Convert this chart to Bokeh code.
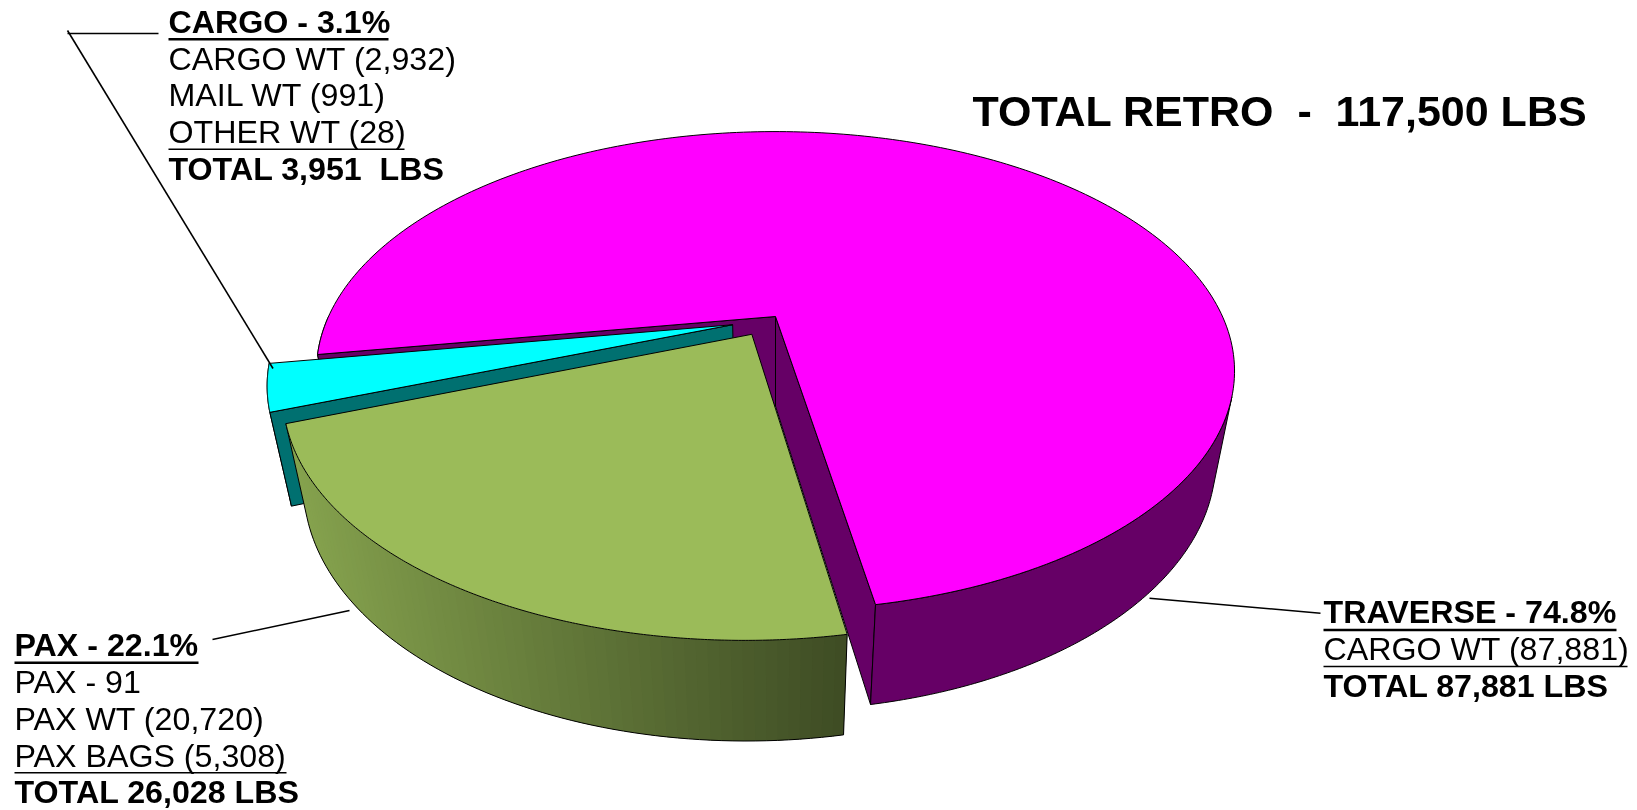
import math
from bokeh.plotting import figure
from bokeh.models import Range1d
from bokeh.core.properties import value
from bokeh.embed import file_html
from bokeh.resources import INLINE

# ---- data
slices = ["TRAVERSE", "CARGO", "PAX"]
shares = [74.8, 3.1, 22.1]
top_colors = ["#FF00FF", "#00FFFF", "#9BBB59"]
wall_colors = ["#660066", "#007070", None]
title = "TOTAL RETRO \u00a0-\u00a0 117,500 LBS"
cargo_lines = ["CARGO - 3.1%", "CARGO WT (2,932)", "MAIL WT (991)", "OTHER WT (28)", "TOTAL 3,951 \u00a0LBS"]
pax_lines = ["PAX - 22.1%", "PAX - 91", "PAX WT (20,720)", "PAX BAGS (5,308)", "TOTAL 26,028 LBS"]
traverse_lines = ["TRAVERSE - 74.8%", "CARGO WT (87,881)", "TOTAL 87,881 LBS"]
bold_flags_cargo = [True, False, False, False, True]
bold_flags_pax = [True, False, False, False, True]
bold_flags_traverse = [True, False, True]

# ---- perspective of the pie
CX, CY, A, B, K, D, E = 775.0, 316.0, 447.0, 227.0, 0.2276, 0.0408, 93.3
START_DEG = -80.0
OFFSETS = {"TRAVERSE": (0.0, 0.0), "CARGO": (-0.095, -0.036), "PAX": (-0.052, -0.077)}
FONT = "Liberation Sans"


def project(u, v, d=0.0):
    w = 1 + K * v + D * d
    return CX + A * u / w, CY + (-B * v + E * d) / w


def rim(off, a0, a1, d=0.0, n=120):
    xs, ys = [], []
    for i in range(n + 1):
        t = math.radians(a0 + (a1 - a0) * i / n)
        x, y = project(off[0] + math.cos(t), off[1] + math.sin(t), d)
        xs.append(x)
        ys.append(y)
    return xs, ys


def silhouette_angle(off):
    """angle of the rim point where the wall's vertical edge is tangent to the right side"""
    vy = CY + E / D

    def lean(deg):
        t = math.radians(deg)
        x, y = project(off[0] + math.cos(t), off[1] + math.sin(t))
        return (x - CX) / (vy - y)

    return max((i * 0.1 - 60 for i in range(600)), key=lean)


p = figure(width=1637, height=810, output_backend="svg", toolbar_location=None,
           x_range=Range1d(0, 1637), y_range=Range1d(810, 0),
           min_border=0, outline_line_color=None)
p.axis.visible = False
p.grid.visible = False
p.styles = {"position": "fixed", "left": "0px", "top": "0px"}

LW = 1.0


def poly(xs, ys, fill, line="black", lw=LW):
    p.patch(xs, ys, fill_color=fill, line_color=line, line_width=lw)


def slab_side(off, a, color):
    """flat inner wall along the radius at angle a"""
    ax, ay = project(off[0], off[1])
    bx, by = project(off[0], off[1], 1.0)
    rx, ry = rim(off, a, a, n=1)
    qx, qy = rim(off, a, a, 1.0, n=1)
    poly([ax, rx[0], qx[0], bx], [ay, ry[0], qy[0], by], color)


def outer_wall(off, a0, a1, color):
    x0, y0 = rim(off, a0, a1)
    x1, y1 = rim(off, a0, a1, 1.0)
    poly(x0 + x1[::-1], y0 + y1[::-1], color)


def top_face(off, a0, a1, color):
    ax, ay = project(off[0], off[1])
    xs, ys = rim(off, a0, a1, n=240)
    poly([ax] + xs, [ay] + ys, color)


def mix(c0, c1, f):
    return "#%02x%02x%02x" % tuple(round(a + (b - a) * f) for a, b in zip(c0, c1))


def gradient_wall(off, a0, a1, c0, c1, n=70):
    xa, ya = rim(off, a0, a1, n=n)
    xb, yb = rim(off, a0, a1, 1.0, n=n)
    lo, hi = min(xa), max(xa)
    for i in range(n):
        j = min(i + 2, n)
        col = mix(c0, c1, ((xa[i] + xa[i + 1]) / 2 - lo) / (hi - lo))
        p.patch(xa[i:j + 1] + xb[i:j + 1][::-1], ya[i:j + 1] + yb[i:j + 1][::-1],
                fill_color=col, line_color=None)
    p.line(xb, yb, line_color="black", line_width=LW)
    p.line([xa[0], xb[0]], [ya[0], yb[0]], line_color="black", line_width=LW)
    p.line([xa[-1], xb[-1]], [ya[-1], yb[-1]], line_color="black", line_width=LW)


# slice angles (counter-clockwise from the near edge of TRAVERSE)
angles = {}
a = START_DEG
for name, s in zip(slices, shares):
    angles[name] = (a, a + s * 3.6)
    a += s * 3.6

# TRAVERSE
a0, a1 = angles["TRAVERSE"]
off = OFFSETS["TRAVERSE"]
outer_wall(off, 180, a1, wall_colors[0])
slab_side(off, a1, wall_colors[0])
slab_side(off, a0, wall_colors[0])
outer_wall(off, a0, silhouette_angle(off), wall_colors[0])
top_face(off, a0, a1, top_colors[0])

# CARGO
a0, a1 = angles["CARGO"]
off = OFFSETS["CARGO"]
outer_wall(off, a0, a1, wall_colors[1])
slab_side(off, a1, wall_colors[1])
top_face(off, a0, a1, top_colors[1])

# PAX
a0, a1 = angles["PAX"]
off = OFFSETS["PAX"]
gradient_wall(off, a0, a1, (134, 163, 78), (62, 76, 36))
top_face(off, a0, a1, top_colors[2])


SIZE_PX = 32.2
RAISE = 0.36  # the renderer places text by its middle: from baseline to middle, in em


def block(lines, flags, x, y0, step):
    for i, (txt, bold) in enumerate(zip(lines, flags)):
        p.text([x], [y0 + i * step - RAISE * SIZE_PX], text=[txt], text_font=value(FONT),
               text_font_size=f"{SIZE_PX}px", text_font_style="bold" if bold else "normal",
               text_color="black", text_baseline="middle", text_align="left")


TITLE_PX = 43
p.text([972], [126 - RAISE * TITLE_PX], text=[title], text_font=value(FONT), text_font_size=f"{TITLE_PX}px",
       text_font_style="bold", text_color="black", text_baseline="middle")
block(cargo_lines, bold_flags_cargo, 168, 33, 36.75)
block(pax_lines, bold_flags_pax, 14, 656.5, 36.75)
block(traverse_lines, bold_flags_traverse, 1323, 623.5, 36.75)

# underlines
for x0, x1, y, lw in [(168, 388, 38.7, 2.6), (168, 404, 148.7, 1.4),
                      (14, 198, 662.3, 2.6), (14, 286, 772.3, 1.4),
                      (1323, 1616, 629.5, 2.6), (1323, 1627, 666, 1.4)]:
    p.line([x0, x1], [y, y], line_color="black", line_width=lw)

# leader lines
p.line([67, 158], [33, 33], line_color="black", line_width=1.6)
p.line([67, 272.5], [30, 368], line_color="black", line_width=1.6)
p.line([212, 349], [639, 610], line_color="black", line_width=1.6)
p.line([1149, 1320], [597.7, 612.7], line_color="black", line_width=1.6)

open("out.html", "w").write(file_html(p, INLINE))
